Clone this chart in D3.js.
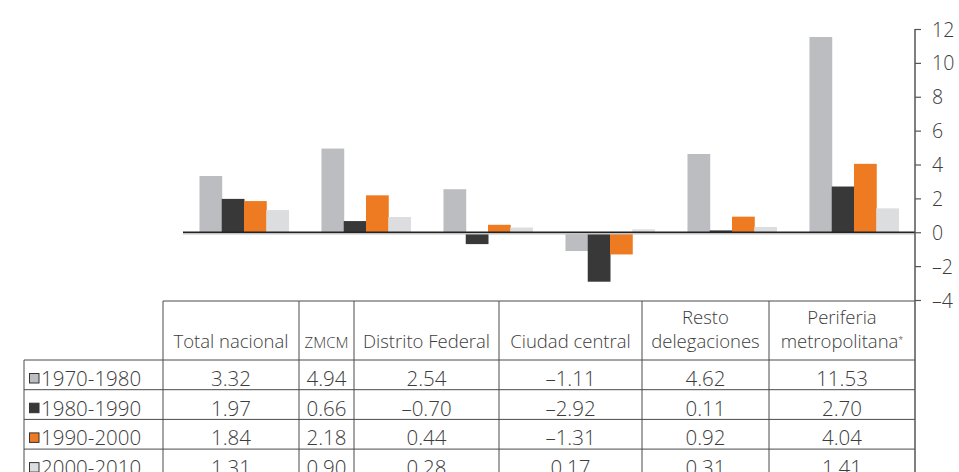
<!DOCTYPE html>
<html>
<head>
<meta charset="utf-8">
<script src="https://cdn.jsdelivr.net/npm/d3@7"></script>
<style>
  body { margin: 0; background: #fff; }
  svg text { font-family: "Open Sans", "Liberation Sans", sans-serif; font-weight: 300; fill: #3c3c3c; }
</style>
</head>
<body>
<script>
// categories and periods
var categories = ["Total nacional", "ZMCM", "Distrito Federal", "Ciudad central", "Resto delegaciones", "Periferia metropolitana"];
var periods = ["1970-1980", "1980-1990", "1990-2000", "2000-2010"];

// growth rates per period (same order as categories)
var v1970 = [3.32, 4.94, 2.54, -1.11, 4.62, 11.53];
var v1980 = [1.97, 0.66, -0.70, -2.92, 0.11, 2.70];
var v1990 = [1.84, 2.18, 0.44, -1.31, 0.92, 4.04];
var v2000 = [1.31, 0.90, 0.28, 0.17, 0.31, 1.41];
var series = [v1970, v1980, v1990, v2000];

var colors = ["#bcbdc1", "#383838", "#ee7b22", "#dcddde"];
var yTicks = [-4, -2, 0, 2, 4, 6, 8, 10, 12];

var width = 959, height = 472;

var svg = d3.select("body").append("svg")
    .attr("width", width)
    .attr("height", height);

// scales
var x = d3.scaleBand()
    .domain(categories)
    .range([183, 915])
    .paddingInner(0.27)
    .paddingOuter(0.135);

var xs = d3.scaleBand()
    .domain(d3.range(periods.length))
    .range([0, x.bandwidth()]);

var y = d3.scaleLinear()
    .domain([-4, 12])
    .range([300, 29]);

var fmt = function(v) {
    var s = d3.format(".2f")(Math.abs(v));
    return v < 0 ? "\u2013" + s : s;
};

// bars
var groups = svg.append("g").selectAll("g")
    .data(series)
    .enter().append("g")
    .attr("fill", function(d, i) { return colors[i]; });

groups.each(function(vals, si) {
    d3.select(this).selectAll("rect")
        .data(vals)
        .enter().append("rect")
        .attr("x", function(d, ci) { return x(categories[ci]) + xs(si); })
        .attr("width", xs.bandwidth() + 0.5)
        .attr("y", function(d) { return y(Math.max(0, d)); })
        .attr("height", function(d) { return Math.abs(y(d) - y(0)); });
});

// zero line with its shadow
svg.append("line")
    .attr("x1", 183).attr("x2", 915)
    .attr("y1", y(0) + 1.6).attr("y2", y(0) + 1.6)
    .attr("stroke", "#c4c4c4").attr("stroke-width", 1.5);
svg.append("line")
    .attr("x1", 183).attr("x2", 915)
    .attr("y1", y(0)).attr("y2", y(0))
    .attr("stroke", "#222").attr("stroke-width", 1.6);

// right-hand axis
var axis = svg.append("g")
    .attr("transform", "translate(915,0)")
    .call(d3.axisRight(y).tickValues(yTicks).tickSize(6).tickPadding(11)
        .tickFormat(function(d) { return d < 0 ? "\u2013" + Math.abs(d) : d; }));
axis.select(".domain").remove();
axis.selectAll("line").attr("stroke", "#555").attr("stroke-width", 1.2);
axis.selectAll("text")
    .style("font-size", "19.5px")
    .attr("fill", "#3c3c3c")
    .attr("dy", "0.36em");

// table
var colEdges = [24, 163, 299, 354, 499, 642, 769, 915];
var rowTop = 301, headBottom = 360, rowH = 29.7;
var table = svg.append("g");
var stroke = "#4a4a4a";

// vertical axis line runs through the table
svg.append("line")
    .attr("x1", 915).attr("x2", 915)
    .attr("y1", y(12)).attr("y2", height)
    .attr("stroke", "#555").attr("stroke-width", 1.5);

table.append("line")
    .attr("x1", colEdges[1]).attr("x2", 915)
    .attr("y1", rowTop).attr("y2", rowTop)
    .attr("stroke", stroke);

periods.forEach(function(p, i) {
    var yy = headBottom + i * rowH;
    table.append("line")
        .attr("x1", colEdges[0]).attr("x2", 915)
        .attr("y1", yy).attr("y2", yy)
        .attr("stroke", stroke);
});

colEdges.slice(0, -1).forEach(function(cx, i) {
    table.append("line")
        .attr("x1", cx).attr("x2", cx)
        .attr("y1", i === 0 ? headBottom : rowTop).attr("y2", height)
        .attr("stroke", stroke);
});

// header labels
var headerLines = [["Total nacional"], ["ZMCM"], ["Distrito Federal"], ["Ciudad central"],
    ["Resto", "delegaciones"], ["Periferia", "metropolitana"]];

headerLines.forEach(function(lines, ci) {
    var cx = (colEdges[ci + 1] + colEdges[ci + 2]) / 2;
    lines.forEach(function(line, li) {
        var t = table.append("text")
            .attr("x", cx)
            .attr("y", 348 - (lines.length - 1 - li) * 24)
            .attr("text-anchor", "middle")
            .style("font-size", ci === 1 ? "15px" : "18.5px")
            .text(line);
        if (ci === 1) t.attr("textLength", 44).attr("lengthAdjust", "spacingAndGlyphs");
        if (ci === 5 && li === 1) {
            t.append("tspan").attr("dy", "-0.6em").style("font-size", "9px").text("*");
        }
    });
});

// data rows
periods.forEach(function(p, si) {
    var rowY = headBottom + si * rowH;
    table.append("rect")
        .attr("x", 29.5).attr("y", rowY + 13.5)
        .attr("width", 9.5).attr("height", 9.5)
        .attr("fill", colors[si])
        .attr("stroke", "#333").attr("stroke-width", 1);
    table.append("text")
        .attr("x", 41).attr("y", rowY + 26)
        .style("font-size", "20.5px")
        .text(p);
    series[si].forEach(function(v, ci) {
        table.append("text")
            .attr("x", (colEdges[ci + 1] + colEdges[ci + 2]) / 2)
            .attr("y", rowY + 26)
            .attr("text-anchor", "middle")
            .style("font-size", "20.5px")
            .text(fmt(v));
    });
});
</script>
</body>
</html>
